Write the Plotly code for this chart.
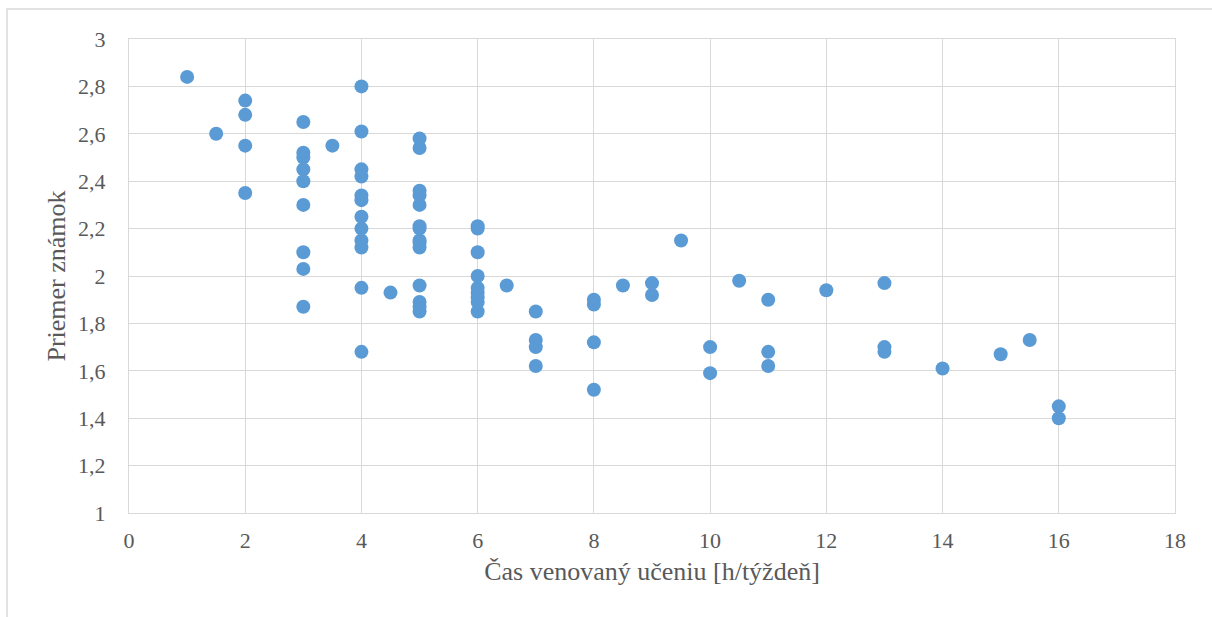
import plotly.graph_objects as go

# Study time per week (hours) and the matching grade average
hodiny = [
    1, 1.5,
    2, 2, 2, 2,
    3, 3, 3, 3, 3, 3, 3, 3, 3,
    3.5,
    4, 4, 4, 4, 4, 4, 4, 4, 4, 4, 4, 4,
    4.5,
    5, 5, 5, 5, 5, 5, 5, 5, 5, 5, 5, 5, 5, 5,
    6, 6, 6, 6, 6, 6, 6, 6, 6,
    6.5,
    7, 7, 7, 7,
    8, 8, 8, 8,
    8.5, 9, 9, 9.5,
    10, 10, 10.5,
    11, 11, 11, 12,
    13, 13, 13,
    14, 15, 15.5, 16, 16,
]
priemer = [
    2.84, 2.60,
    2.74, 2.68, 2.55, 2.35,
    2.65, 2.52, 2.50, 2.45, 2.40, 2.30, 2.10, 2.03, 1.87,
    2.55,
    2.80, 2.61, 2.45, 2.42, 2.34, 2.32, 2.25, 2.20, 2.15, 2.12, 1.95, 1.68,
    1.93,
    2.58, 2.54, 2.36, 2.34, 2.30, 2.21, 2.20, 2.15, 2.14, 2.12, 1.96, 1.89, 1.87, 1.85,
    2.21, 2.20, 2.10, 2.00, 1.95, 1.93, 1.91, 1.89, 1.85,
    1.96,
    1.85, 1.73, 1.70, 1.62,
    1.90, 1.88, 1.72, 1.52,
    1.96, 1.97, 1.92, 2.15,
    1.70, 1.59, 1.98,
    1.90, 1.68, 1.62, 1.94,
    1.97, 1.70, 1.68,
    1.61, 1.67, 1.73, 1.45, 1.40,
]

x_title = "Čas venovaný učeniu [h/týždeň]"
y_title = "Priemer známok"

font_family = "Liberation Serif"
grid = "#D9D9D9"
label_color = "#595959"
tick_font = dict(family=font_family, size=22, color=label_color)
title_font = dict(family=font_family, size=26, color=label_color)

fig = go.Figure(
    go.Scatter(
        x=hodiny,
        y=priemer,
        mode="markers",
        marker=dict(color="#5B9BD5", size=14, line=dict(width=0)),
        hoverinfo="x+y",
    )
)

axis_common = dict(
    showgrid=True,
    gridcolor=grid,
    gridwidth=1,
    zeroline=False,
    showline=True,
    linecolor=grid,
    linewidth=1,
    mirror=True,
    ticks="outside",
    tickcolor="rgba(0,0,0,0)",
    tickfont=tick_font,
)

fig.update_layout(
    template="none",
    width=1212,
    height=617,
    margin=dict(l=129, r=37, t=39, b=104),
    paper_bgcolor="white",
    plot_bgcolor="white",
    separators=", ",
    showlegend=False,
    font=dict(family=font_family, color=label_color, size=22),
    xaxis=dict(
        range=[0, 18],
        dtick=2,
        tick0=0,
        ticklen=8,
        title=dict(text=x_title, font=title_font, standoff=9),
        **axis_common,
    ),
    yaxis=dict(
        range=[1, 3],
        dtick=0.2,
        tick0=1,
        ticklen=18,
        title=dict(text=y_title, font=title_font, standoff=4),
        **axis_common,
    ),
    shapes=[
        dict(
            type="rect",
            xref="paper",
            yref="paper",
            x0=-122 / 1046,
            x1=1.2,
            y0=-0.5,
            y1=1 + 30 / 474,
            line=dict(color="#D9D9D9", width=1.5),
            fillcolor="rgba(0,0,0,0)",
            layer="below",
        )
    ],
)

fig.write_html("out.html")
